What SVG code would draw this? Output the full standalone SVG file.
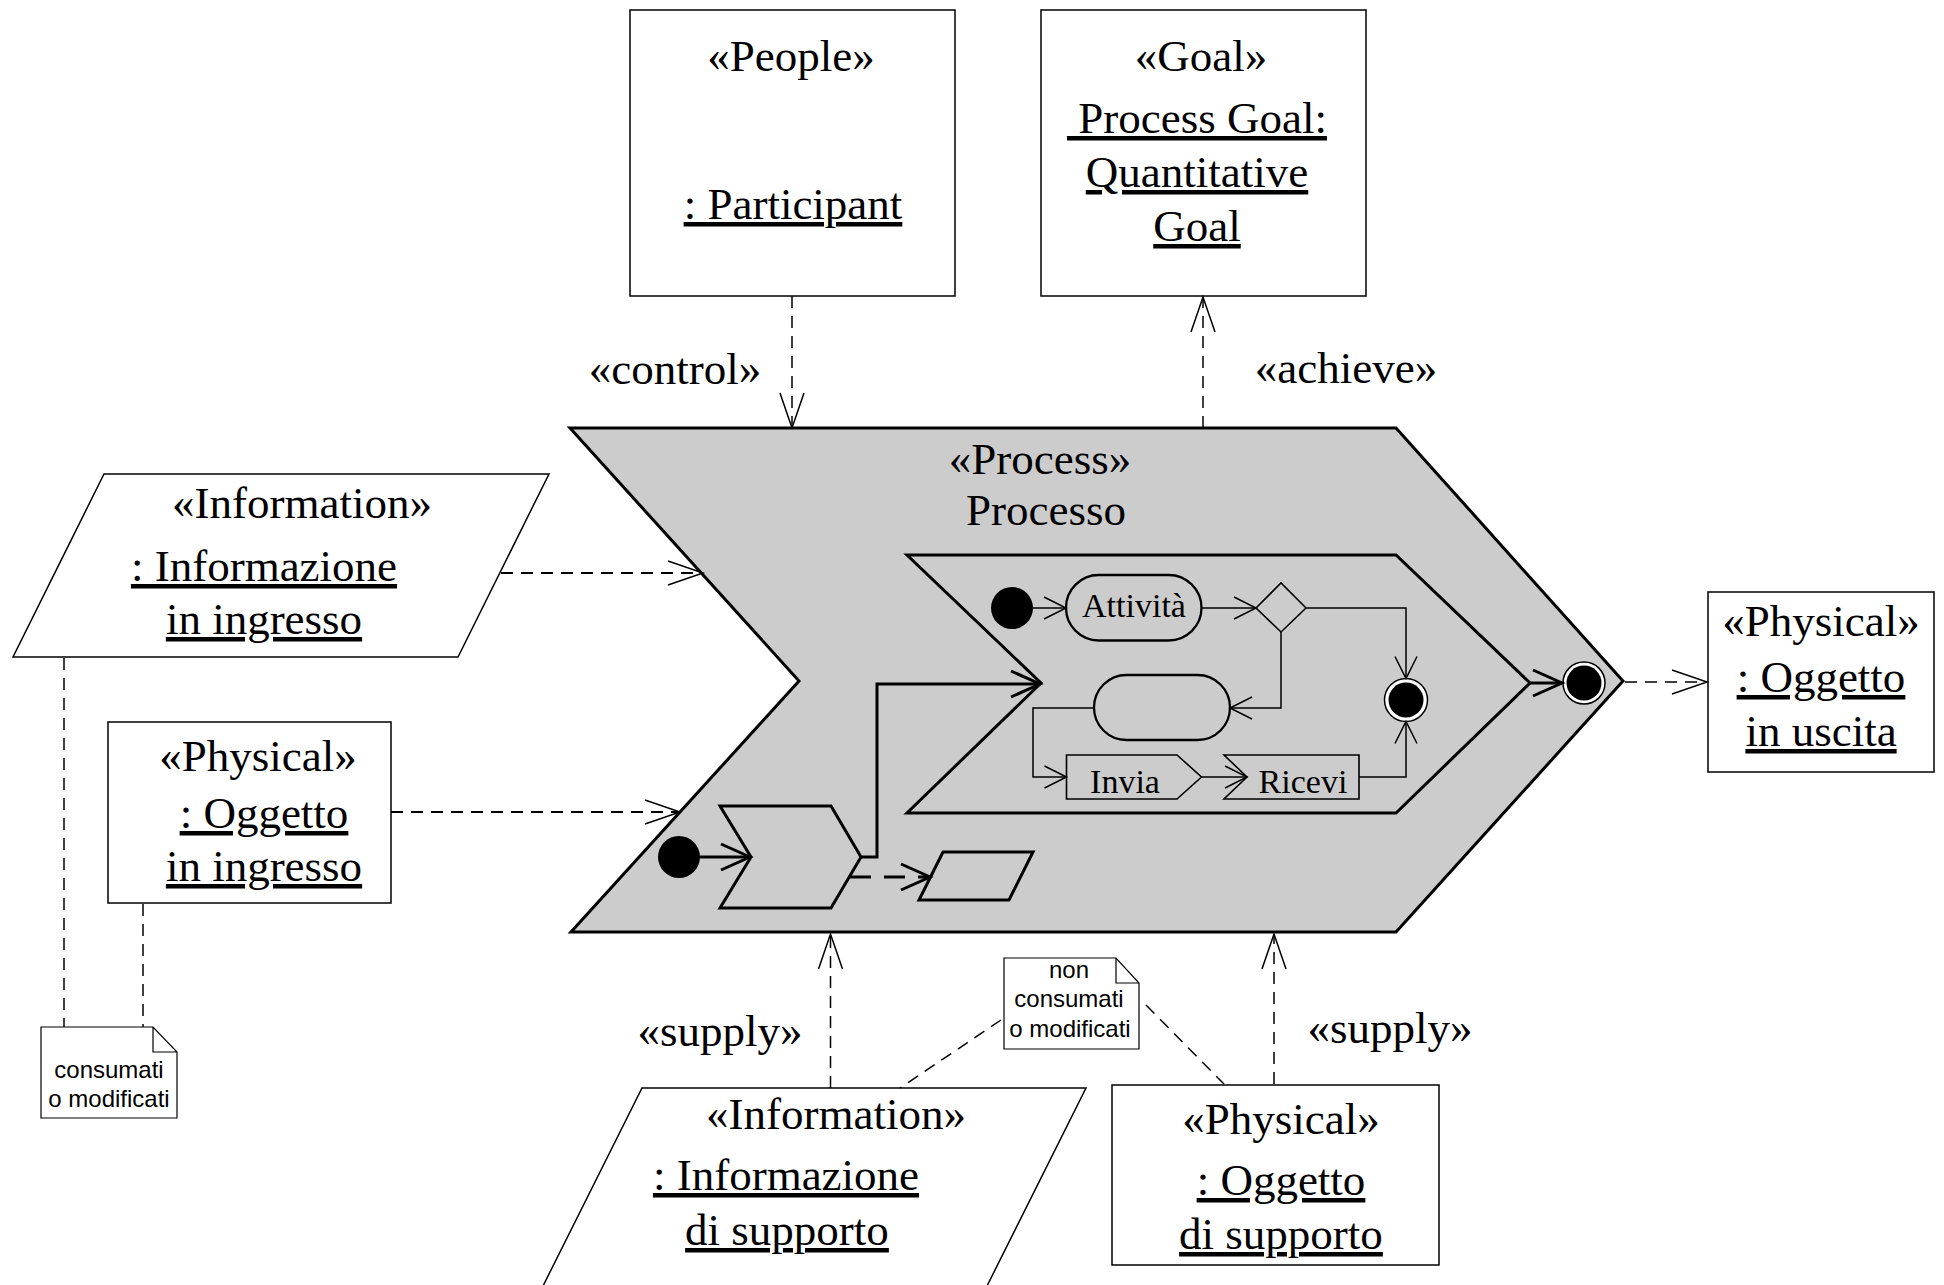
<svg xmlns="http://www.w3.org/2000/svg" width="1944" height="1285" viewBox="0 0 1944 1285">
<style>
.t{font-family:"Liberation Serif","Times New Roman",serif;font-size:45px;fill:#000;text-anchor:middle}
.u{text-decoration:underline;text-decoration-skip-ink:none}
.i{font-size:34px}
.s{font-family:"Liberation Sans",Arial,sans-serif;font-size:24px;fill:#000;text-anchor:middle}
.box{fill:#fff;stroke:#000;stroke-width:1.5}
.note{fill:#fff;stroke:#000;stroke-width:1.2}
.gray{fill:#cccccc;stroke:#000;stroke-width:3;stroke-linejoin:miter}
.in{fill:#cccccc;stroke:#000;stroke-width:1.6}
.ink{fill:#cccccc;stroke:#000;stroke-width:3}
.dash{fill:none;stroke:#000;stroke-width:1.5;stroke-dasharray:12 8}
.dash2{fill:none;stroke:#000;stroke-width:2;stroke-dasharray:12 8}
.dash3{fill:none;stroke:#000;stroke-width:3;stroke-dasharray:21 13}
.thin{fill:none;stroke:#000;stroke-width:1.5}
.thick{fill:none;stroke:#000;stroke-width:3}
</style>
<defs>
<marker id="aL" markerUnits="userSpaceOnUse" viewBox="-40 -20 44 40" markerWidth="44" markerHeight="40" refX="0" refY="0" orient="auto" overflow="visible"><path d="M-35,-12 L0,0 L-35,12" fill="none" stroke="#000" stroke-width="1.5"/></marker>
<marker id="aT" markerUnits="userSpaceOnUse" viewBox="-40 -20 44 40" markerWidth="44" markerHeight="40" refX="0" refY="0" orient="auto" overflow="visible"><path d="M-29,-13 L0,0 L-29,13" fill="none" stroke="#000" stroke-width="3"/></marker>
<marker id="aS" markerUnits="userSpaceOnUse" viewBox="-40 -20 44 40" markerWidth="44" markerHeight="40" refX="0" refY="0" orient="auto" overflow="visible"><path d="M-22,-11 L0,0 L-22,11" fill="none" stroke="#000" stroke-width="1.5"/></marker>
</defs>
<rect width="1944" height="1285" fill="#fff"/>

<g id="process">
<polygon class="gray" points="570,428 1396,428 1623,681 1396,932 571,932 799,681"/>
<text class="t" x="1040" y="474">«Process»</text>
<text class="t" x="1046" y="525">Processo</text>
</g>

<g id="subprocess">
<polygon class="gray" points="907,555 1396,555 1530,683 1396,813 907,813 1041,683"/>
</g>

<g id="people">
<rect class="box" x="630" y="10" width="325" height="286"/>
<text class="t" x="791" y="71">«People»</text>
<text class="t u" x="793" y="219">: Participant</text>
</g>

<g id="goal">
<rect class="box" x="1041" y="10" width="325" height="286"/>
<text class="t" x="1201" y="71">«Goal»</text>
<text class="t u" x="1197" y="133">&#160;Process Goal:</text>
<text class="t u" x="1197" y="187">Quantitative</text>
<text class="t u" x="1197" y="241">Goal</text>
</g>

<g id="info-in">
<polygon class="box" points="104,474 549,474 458,657 13,657"/>
<text class="t" x="302" y="518">«Information»</text>
<text class="t u" x="264" y="581">: Informazione</text>
<text class="t u" x="264" y="634">in ingresso</text>
</g>

<g id="phys-in">
<rect class="box" x="108" y="722" width="283" height="181"/>
<text class="t" x="258" y="771">«Physical»</text>
<text class="t u" x="264" y="828">: Oggetto</text>
<text class="t u" x="264" y="881">in ingresso</text>
</g>

<g id="note-left">
<path class="note" d="M41,1027 H153 L177,1052 V1118 H41 Z M153,1027 V1052 H177"/>
<text class="s" x="109" y="1078">consumati</text>
<text class="s" x="109" y="1107">o modificati</text>
</g>

<g id="phys-out">
<rect class="box" x="1708" y="592" width="226" height="180"/>
<text class="t" x="1821" y="636">«Physical»</text>
<text class="t u" x="1821" y="692">: Oggetto</text>
<text class="t u" x="1821" y="746">in uscita</text>
</g>

<g id="note-bottom">
<path class="note" d="M1004,958 H1116 L1139,983 V1049 H1004 Z M1116,958 V983 H1139"/>
<text class="s" x="1069" y="978">non</text>
<text class="s" x="1069" y="1007">consumati</text>
<text class="s" x="1070" y="1037">o modificati</text>
</g>

<g id="info-support">
<polygon class="box" points="642,1088 1086,1088 980,1300 536,1300"/>
<text class="t" x="836" y="1129">«Information»</text>
<text class="t u" x="786" y="1190">: Informazione</text>
<text class="t u" x="787" y="1245">di supporto</text>
</g>

<g id="phys-support">
<rect class="box" x="1112" y="1085" width="327" height="180"/>
<text class="t" x="1281" y="1134">«Physical»</text>
<text class="t u" x="1281" y="1195">: Oggetto</text>
<text class="t u" x="1281" y="1249">di supporto</text>
</g>

<g id="inner-nodes">
<circle cx="679" cy="857" r="21" fill="#000"/>
<polygon class="ink" points="720,806 831,806 861,857 831,908 720,908 751,857"/>
<polygon class="ink" points="943,852 1033,852 1009,900 919,900"/>
<circle cx="1012" cy="608" r="21" fill="#000"/>
<rect x="1066" y="575" width="135.5" height="65.5" rx="32.75" fill="#cccccc" stroke="#000" stroke-width="2.3"/>
<text class="t i" x="1134" y="617">Attività</text>
<polygon class="in" points="1256,608 1281,583 1306,608 1281,632"/>
<rect x="1094" y="675" width="136" height="65" rx="32.5" fill="#cccccc" stroke="#000" stroke-width="2.3"/>
<circle cx="1406" cy="700" r="21.5" fill="#fff" stroke="#000" stroke-width="1.5"/>
<circle cx="1406" cy="700" r="17.5" fill="#000"/>
<polygon class="in" points="1066.5,755 1177,755 1201.5,777 1177,799 1066.5,799"/>
<text class="t i" x="1125" y="793">Invia</text>
<polygon class="in" points="1224,755 1359,755 1359,799 1224,799 1247,777"/>
<text class="t i" x="1303" y="793">Ricevi</text>
<circle cx="1584" cy="683" r="21" fill="#fff" stroke="#000" stroke-width="1.5"/>
<circle cx="1584" cy="683" r="17.5" fill="#000"/>
</g>

<g id="connectors">
<line class="dash" x1="792" y1="296" x2="792" y2="428" marker-end="url(#aL)"/>
<line class="dash" x1="1203" y1="428" x2="1203" y2="297" marker-end="url(#aL)"/>
<line class="dash2" x1="501" y1="573" x2="703" y2="573" marker-end="url(#aL)"/>
<line class="dash2" x1="391" y1="812" x2="680" y2="812" marker-end="url(#aL)"/>
<line class="dash" x1="1625" y1="682" x2="1707" y2="682" marker-end="url(#aL)"/>
<line class="dash" x1="830.5" y1="1088" x2="830.5" y2="934" marker-end="url(#aL)"/>
<line class="dash" x1="1274" y1="1084" x2="1274" y2="934" marker-end="url(#aL)"/>
<line class="dash" x1="64" y1="658" x2="64" y2="1027"/>
<line class="dash" x1="143" y1="904" x2="143" y2="1027"/>
<line class="dash" x1="1001" y1="1020" x2="900" y2="1088"/>
<line class="dash" x1="1146" y1="1005" x2="1224" y2="1084"/>
<line class="thick" x1="700" y1="857" x2="750" y2="857" marker-end="url(#aT)"/>
<polyline class="thick" points="860,857 877,857 877,684 1040,684" marker-end="url(#aT)"/>
<line class="dash3" x1="850" y1="877" x2="930" y2="877" marker-end="url(#aT)"/>
<line class="thick" x1="1530" y1="683" x2="1562" y2="683" marker-end="url(#aT)"/>
<line class="thin" x1="1033" y1="608" x2="1066" y2="608" marker-end="url(#aS)"/>
<line class="thin" x1="1201.5" y1="608" x2="1256" y2="608" marker-end="url(#aS)"/>
<polyline class="thin" points="1306,608 1406,608 1406,678.5" marker-end="url(#aS)"/>
<polyline class="thin" points="1281,632 1281,708 1230,708" marker-end="url(#aS)"/>
<polyline class="thin" points="1094,708 1033,708 1033,777 1066.5,777" marker-end="url(#aS)"/>
<line class="thin" x1="1201.5" y1="777" x2="1247" y2="777" marker-end="url(#aS)"/>
<polyline class="thin" points="1359,777 1406,777 1406,721.5" marker-end="url(#aS)"/>
</g>

<g id="labels">
<text class="t" x="675" y="384">«control»</text>
<text class="t" x="1346" y="383">«achieve»</text>
<text class="t" x="720" y="1046">«supply»</text>
<text class="t" x="1390" y="1043">«supply»</text>
</g>
</svg>
